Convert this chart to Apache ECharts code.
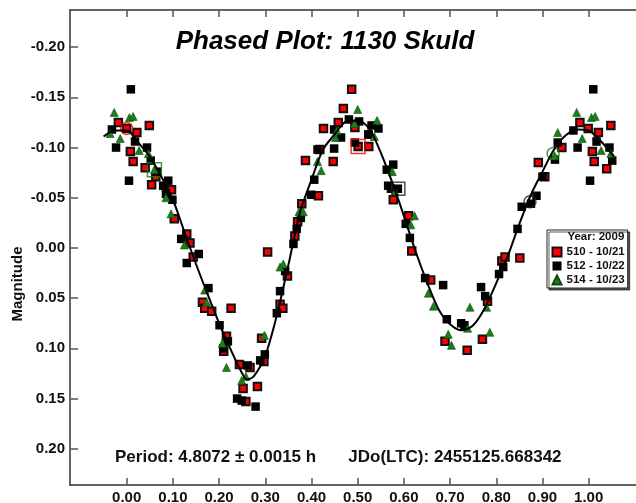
<!DOCTYPE html>
<html>
<head>
<meta charset="utf-8">
<title>Phased Plot: 1130 Skuld</title>
<script src="https://cdn.jsdelivr.net/npm/echarts@6/dist/echarts.min.js"></script>
<style>
  html, body { margin: 0; padding: 0; background: #fff; }
  #chart { width: 636px; height: 503px; }
</style>
</head>
<body>
<div id="chart"></div>
<script>
const FONT = '"Liberation Sans", Arial, sans-serif'

// tick positions
const xTicks = [0, 0.1, 0.2, 0.3, 0.4, 0.5, 0.6, 0.7, 0.8, 0.9, 1.0]
const yTicks = [-0.2, -0.15, -0.1, -0.05, 0, 0.05, 0.1, 0.15, 0.2]

// 510 - 10/21 (red squares)
const phase510 = [-0.018, 0.000, 0.049, 0.022, 0.008, 0.014, 0.040, 0.063, 0.054, 0.097, 0.103, 0.130, 0.137, 0.144,
  0.305, 0.164, 0.169, 0.184, 0.226, 0.216, 0.210, 0.292, 0.297, 0.244, 0.267, 0.252, 0.283, 0.258,
  0.487, 0.469, 0.458, 0.494, 0.426, 0.501, 0.524, 0.418, 0.387, 0.447, 0.415, 0.379, 0.370, 0.364, 0.348, 0.332, 0.338,
  0.577, 0.610, 0.617, 0.658, 0.689, 0.737, 0.770, 0.781, 0.812, 0.819, 0.851, 0.891, 0.905,
  0.981, 1.048, 0.999, 1.021, 0.942, 1.008, 1.012, 1.039]
const mag510 = [-0.125, -0.119, -0.122, -0.115, -0.096, -0.086, -0.080, -0.071, -0.063, -0.058, -0.029, -0.014, -0.005, 0.009,
  0.004, 0.054, 0.060, 0.063, 0.060, 0.088, 0.103, 0.090, 0.113, 0.116, 0.119, 0.140, 0.138, 0.153,
  -0.158, -0.139, -0.125, -0.120, -0.119, -0.101, -0.101, -0.098, -0.087, -0.086, -0.052, -0.044, -0.026, -0.012, 0.028, 0.056, 0.060,
  -0.048, -0.032, 0.003, 0.032, 0.093, 0.102, 0.091, 0.053, 0.013, 0.009, 0.010, -0.085, -0.071,
  -0.125, -0.122, -0.119, -0.115, -0.100, -0.096, -0.086, -0.079]

// 512 - 10/22 (black squares)
const phase512 = [0.009, -0.032, 0.018, -0.023, 0.044, 0.052, 0.066, 0.005, 0.090, 0.079, 0.085, 0.099, 0.118, 0.130,
  0.156, 0.177, 0.201, 0.219, 0.209, 0.299, 0.289, 0.262, 0.239, 0.249, 0.279,
  0.481, 0.503, 0.449, 0.464, 0.523, 0.494, 0.449, 0.413, 0.406, 0.399, 0.377, 0.368, 0.361, 0.343, 0.332, 0.325,
  0.530, 0.545, 0.524, 0.577, 0.563, 0.566, 0.572, 0.587, 0.604, 0.613, 0.646, 0.685, 0.693, 0.724, 0.731,
  0.900, 0.887, 0.855, 0.875, 0.846, 0.815, 0.806, 0.767, 0.776,
  1.010, 0.967, 1.017, 0.933, 0.976, 1.045, 0.927, 1.051, 1.003]
const mag512 = [-0.158, -0.118, -0.106, -0.100, -0.100, -0.087, -0.076, -0.067, -0.067, -0.062, -0.054, -0.048, -0.009, 0.015,
  0.006, 0.040, 0.077, 0.093, 0.100, 0.106, 0.112, 0.117, 0.150, 0.152, 0.158,
  -0.128, -0.126, -0.118, -0.110, -0.113, -0.105, -0.099, -0.098, -0.068, -0.053, -0.030, -0.019, -0.004, 0.023, 0.043, 0.065,
  -0.122, -0.119, -0.113, -0.083, -0.078, -0.062, -0.059, -0.059, -0.024, -0.010, 0.030, 0.037, 0.071, 0.075, 0.077,
  -0.071, -0.052, -0.041, -0.044, -0.019, 0.019, 0.026, 0.039, 0.048,
  -0.158, -0.117, -0.106, -0.105, -0.100, -0.100, -0.088, -0.087, -0.067]

// 514 - 10/23 (green triangles)
const phase514 = [-0.027, 0.006, 0.014, -0.036, -0.014, 0.027, 0.047, 0.060, 0.085, 0.096, 0.125,
  0.169, 0.173, 0.207, 0.298, 0.216, 0.258, 0.249,
  0.500, 0.493, 0.455, 0.452, 0.413, 0.421, 0.373, 0.382, 0.332, 0.339,
  0.542, 0.536, 0.575, 0.581, 0.623, 0.615, 0.653, 0.664, 0.696, 0.703, 0.743, 0.779, 0.738, 0.786,
  0.974, 1.006, 1.014, 0.933, 0.986, 1.027, 1.048, 0.926]
const mag514 = [-0.135, -0.130, -0.131, -0.114, -0.109, -0.097, -0.094, -0.078, -0.050, -0.034, -0.003,
  0.042, 0.054, 0.095, 0.087, 0.119, 0.128, 0.132,
  -0.138, -0.124, -0.117, -0.110, -0.086, -0.077, -0.036, -0.036, 0.019, 0.016,
  -0.127, -0.111, -0.076, -0.056, -0.032, -0.023, 0.045, 0.058, 0.086, 0.097, 0.059, 0.059, 0.080, 0.084,
  -0.135, -0.130, -0.131, -0.115, -0.109, -0.097, -0.094, -0.092]

// first point of each session (open markers)
const firstPhase = [0.000, 0.501, 0.060, 0.588, 0.873, 0.923]
const firstMag = [-0.119, -0.101, -0.078, -0.059, -0.046, -0.094]

// fourier fit curve
const fitPhase = [-0.05, -0.025, 0, 0.025, 0.05, 0.075, 0.1, 0.125, 0.15, 0.175, 0.2, 0.225, 0.25, 0.26, 0.275,
  0.3, 0.325, 0.35, 0.375, 0.4, 0.425, 0.45, 0.475, 0.5, 0.525, 0.55, 0.575, 0.6, 0.625, 0.65, 0.675,
  0.7, 0.725, 0.75, 0.775, 0.8, 0.825, 0.85, 0.875, 0.9, 0.925, 0.95, 0.975, 1.0, 1.025, 1.055]
const fitMag = [-0.111, -0.117, -0.117, -0.105, -0.091, -0.071, -0.048, -0.016, 0.016, 0.046, 0.075, 0.101, 0.125, 0.131, 0.128,
  0.107, 0.067, 0.017, -0.035, -0.068, -0.098, -0.113, -0.126, -0.127, -0.119, -0.095, -0.065, -0.032, 0.003, 0.034, 0.061,
  0.076, 0.082, 0.077, 0.060, 0.035, 0.008, -0.024, -0.053, -0.076, -0.098, -0.112, -0.118, -0.117, -0.107, -0.091]

function pairs(xs, ys) {
  return xs.map((x, i) => [x, ys[i]])
}

const firstStyle = [
  { symbol: 'circle', size: 12, color: '#ff0000' },
  { symbol: 'rect', size: 14, color: '#ff0000' },
  { symbol: 'rect', size: 14, color: '#1a7f1a' },
  { symbol: 'rect', size: 13, color: '#222' },
  { symbol: 'circle', size: 12, color: '#222' },
  { symbol: 'circle', size: 12, color: '#1a7f1a' }
]
const firstData = pairs(firstPhase, firstMag).map((v, i) => ({
  value: v,
  symbol: firstStyle[i].symbol,
  symbolSize: firstStyle[i].size,
  itemStyle: { color: 'transparent', borderColor: firstStyle[i].color, borderWidth: 1.5 }
}))

const tickLabel = { fontFamily: FONT, fontSize: 15, fontWeight: 'bold', color: '#111' }
const lineColor = '#333'

const chart = echarts.init(document.getElementById('chart'))
chart.setOption({
  animation: false,
  backgroundColor: '#fff',
  grid: { left: 70, top: 10, right: -10, bottom: 18, containLabel: false, outerBoundsMode: 'none' },
  xAxis: [{
    type: 'value',
    position: 'bottom',
    min: -0.1227,
    max: 1.1241,
    axisLine: { show: true, onZero: false, lineStyle: { color: lineColor, width: 1.5 } },
    axisTick: { show: true, inside: true, length: 7, customValues: xTicks, lineStyle: { color: '#555', width: 1.5 } },
    axisLabel: Object.assign({ customValues: xTicks, margin: 5, formatter: v => v.toFixed(2) }, tickLabel),
    splitLine: { show: false }
  }, {
    type: 'value',
    position: 'top',
    min: -0.1227,
    max: 1.1241,
    axisLine: { show: true, onZero: false, lineStyle: { color: lineColor, width: 1.5 } },
    axisTick: { show: true, inside: true, length: 7, customValues: xTicks, lineStyle: { color: '#555', width: 1.5 } },
    axisLabel: { show: false },
    splitLine: { show: false }
  }],
  yAxis: {
    type: 'value',
    inverse: true,
    min: -0.2370,
    max: 0.2361,
    axisLine: { show: true, onZero: false, lineStyle: { color: lineColor, width: 1.5 } },
    axisTick: { show: true, inside: true, length: 8, customValues: yTicks, lineStyle: { color: '#555', width: 1.5 } },
    axisLabel: Object.assign({ customValues: yTicks, margin: 5, formatter: v => v.toFixed(2) }, tickLabel),
    splitLine: { show: false }
  },
  legend: {
    data: ['510 - 10/21', '512 - 10/22', '514 - 10/23'],
    orient: 'vertical',
    left: 547,
    top: 230,
    padding: [15, 3, 1, 4.5],
    itemWidth: 9,
    itemHeight: 9,
    itemGap: 0,
    selectedMode: false,
    backgroundColor: '#fff',
    borderColor: '#222',
    borderWidth: 1,
    shadowColor: 'rgba(0,0,0,0.65)',
    shadowOffsetX: 2,
    shadowOffsetY: 2,
    shadowBlur: 0,
    textStyle: { fontFamily: FONT, fontSize: 11.5, fontWeight: 'bold', color: '#111', lineHeight: 14 }
  },
  graphic: [
    {
      type: 'text', x: 325, y: 42, z: 100,
      style: {
        text: 'Phased Plot: 1130 Skuld',
        fontFamily: FONT, fontSize: 26, fontWeight: 'bold', fontStyle: 'italic',
        fill: '#000', align: 'center', verticalAlign: 'middle',
        shadowColor: 'rgba(30,70,200,0.55)', shadowOffsetX: 1, shadowOffsetY: 1, shadowBlur: 1
      }
    },
    {
      type: 'text', x: 624.3, y: 237, z: 100,
      style: { text: 'Year: 2009', fontFamily: FONT, fontSize: 11.5, fontWeight: 'bold', fill: '#111', align: 'right', verticalAlign: 'middle' }
    },
    {
      type: 'text', x: 115, y: 457.5, z: 100,
      style: { text: 'Period: 4.8072 ± 0.0015 h', fontFamily: FONT, fontSize: 17, fontWeight: 'bold', fill: '#111', align: 'left', verticalAlign: 'middle' }
    },
    {
      type: 'text', x: 348.3, y: 457.5, z: 100,
      style: { text: 'JDo(LTC): 2455125.668342', fontFamily: FONT, fontSize: 17, fontWeight: 'bold', fill: '#111', align: 'left', verticalAlign: 'middle' }
    },
    {
      type: 'text', x: 17.5, y: 284, z: 100, rotation: Math.PI / 2,
      style: { text: 'Magnitude', fontFamily: FONT, fontSize: 15, fontWeight: 'bold', fill: '#111', align: 'center', verticalAlign: 'middle' }
    }
  ],
  series: [
    {
      name: '510 - 10/21',
      type: 'scatter',
      symbol: 'rect',
      symbolSize: 7.5,
      itemStyle: { color: '#ff0000', borderColor: '#111', borderWidth: 2, opacity: 1 },
      data: pairs(phase510, mag510),
      z: 2
    },
    {
      name: '512 - 10/22',
      type: 'scatter',
      symbol: 'rect',
      symbolSize: 8.5,
      itemStyle: { color: '#000', opacity: 1 },
      data: pairs(phase512, mag512),
      z: 3
    },
    {
      name: '514 - 10/23',
      type: 'scatter',
      symbol: 'triangle',
      symbolSize: 8,
      itemStyle: { color: '#1a7f1a', borderColor: '#0b4d0b', borderWidth: 0.6, opacity: 1 },
      data: pairs(phase514, mag514),
      z: 4
    },
    {
      name: 'first',
      type: 'scatter',
      data: firstData,
      z: 5
    },
    {
      name: 'fit',
      type: 'line',
      smooth: 0.3,
      showSymbol: false,
      symbol: 'none',
      lineStyle: { color: '#000', width: 2 },
      data: pairs(fitPhase, fitMag),
      z: 6
    }
  ]
})
</script>
</body>
</html>
